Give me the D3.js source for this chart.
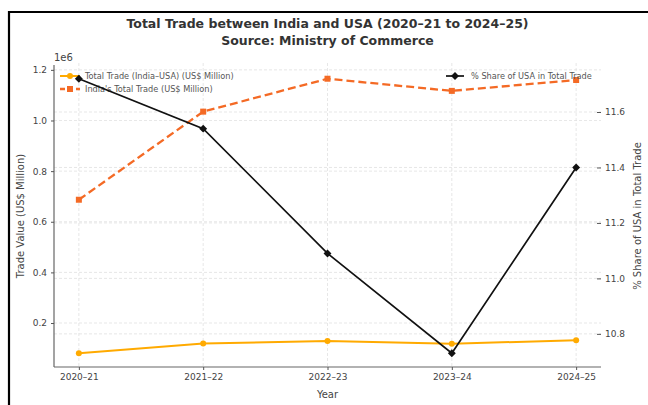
<!DOCTYPE html>
<html><head><meta charset="utf-8">
<script src="https://cdn.jsdelivr.net/npm/d3@7"></script>
<style>body{margin:0;background:#fff}svg{display:block;font-family:"DejaVu Sans",sans-serif}</style>
</head><body>
<svg id="c" width="648" height="405"></svg>
<script>
const years = ["2020–21","2021–22","2022–23","2023–24","2024–25"];
const usaTrade = [80510, 119420, 128550, 118280, 131840];
const indiaTrade = [687000, 1035000, 1165000, 1117000, 1160000];
const usaShare = [11.72, 11.54, 11.09, 10.73, 11.40];
const leftTicks = [0.2e6, 0.4e6, 0.6e6, 0.8e6, 1.0e6, 1.2e6];
const rightTicks = [10.8, 11.0, 11.2, 11.4, 11.6];

const svg = d3.select("#c");
const L = 54, R = 601, T = 65, B = 367;
const textCol = "#444";

// frame
svg.append("line").attr("x1",9).attr("x2",9).attr("y1",11).attr("y2",405).attr("stroke","#000").attr("stroke-width",2.2);
svg.append("line").attr("x1",8).attr("x2",648).attr("y1",12).attr("y2",12).attr("stroke","#000").attr("stroke-width",2.2);

const step = (R - L) / (years.length - 1 + 0.4);
const x = d3.scalePoint().domain(years).range([L + 0.2*step, R - 0.2*step]);

function padExt(arr){const e=d3.extent(arr);const p=(e[1]-e[0])*0.05;return [e[0]-p,e[1]+p];}
const yL = d3.scaleLinear().domain(padExt(usaTrade.concat(indiaTrade))).range([B, T]);
const yR = d3.scaleLinear().domain(padExt(usaShare)).range([B, T]);

// grids
const g = svg.append("g");
const gridAttr = sel => sel.attr("stroke","#dcdcdc").attr("stroke-width",0.7).attr("stroke-dasharray","3,2");
years.forEach(d=>gridAttr(g.append("line").attr("x1",x(d)).attr("x2",x(d)).attr("y1",T-2).attr("y2",B)));
leftTicks.forEach(v=>gridAttr(g.append("line").attr("x1",L).attr("x2",R).attr("y1",yL(v)).attr("y2",yL(v))));
rightTicks.forEach(v=>gridAttr(g.append("line").attr("x1",L).attr("x2",R).attr("y1",yR(v)).attr("y2",yR(v))));

// axes
const axL = svg.append("g").attr("transform",`translate(${L},0)`)
  .call(d3.axisLeft(yL).tickValues(leftTicks).tickFormat(v=>(v/1e6).toFixed(1)).tickSize(3).tickPadding(4));
const axB = svg.append("g").attr("transform",`translate(0,${B})`)
  .call(d3.axisBottom(x).tickSize(3).tickPadding(4));
const axR = svg.append("g").attr("transform",`translate(${R},0)`)
  .call(d3.axisRight(yR).tickValues(rightTicks).tickFormat(d3.format(".1f")).tickSize(0).tickPadding(4));
axR.selectAll(".tick").append("line").attr("x1",-4).attr("x2",0).attr("stroke","#555");
axR.select(".domain").remove();
axB.select(".domain").attr("d",`M${L},0H${R}`);
[axL,axB,axR].forEach(a=>{
  a.selectAll("text").attr("fill",textCol).style("font-size","9px").style("font-family","DejaVu Sans");
  a.selectAll("line").attr("stroke","#555");
  a.select(".domain").attr("stroke","#666").attr("stroke-width",1.2);
});
axL.select(".domain").attr("d",`M0,${B}V${T}`);

// axis labels
svg.append("text").attr("x",54).attr("y",61).attr("fill",textCol).style("font-size","10px").text("1e6");
svg.append("text").attr("transform",`translate(24,${(T+B)/2}) rotate(-90)`).attr("text-anchor","middle").attr("fill",textCol).style("font-size","10px").text("Trade Value (US$ Million)");
svg.append("text").attr("transform",`translate(641,${(T+B)/2}) rotate(-90)`).attr("text-anchor","middle").attr("fill",textCol).style("font-size","10px").text("% Share of USA in Total Trade");
svg.append("text").attr("x",(L+R)/2).attr("y",398).attr("text-anchor","middle").attr("fill",textCol).style("font-size","10px").text("Year");

// title
svg.append("text").attr("x",(L+R)/2).attr("y",28).attr("text-anchor","middle").attr("fill","#333").style("font-size","12.5px").style("font-weight","bold").text("Total Trade between India and USA (2020–21 to 2024–25)");
svg.append("text").attr("x",(L+R)/2).attr("y",45).attr("text-anchor","middle").attr("fill","#333").style("font-size","12.5px").style("font-weight","bold").text("Source: Ministry of Commerce");

const cUSA = "#FFAA00", cInd = "#F46A25", cShare = "#111";
const lineL = d3.line().x((d,i)=>x(years[i])).y(d=>yL(d));
const lineR = d3.line().x((d,i)=>x(years[i])).y(d=>yR(d));

svg.append("path").datum(usaTrade).attr("d",lineL).attr("fill","none").attr("stroke",cUSA).attr("stroke-width",2);
svg.selectAll(".pu").data(usaTrade).enter().append("circle").attr("cx",(d,i)=>x(years[i])).attr("cy",d=>yL(d)).attr("r",3).attr("fill",cUSA);
svg.append("path").datum(indiaTrade).attr("d",lineL).attr("fill","none").attr("stroke",cInd).attr("stroke-width",2.3).attr("stroke-dasharray","8,4");
svg.selectAll(".pi").data(indiaTrade).enter().append("rect").attr("x",(d,i)=>x(years[i])-3).attr("y",d=>yL(d)-3).attr("width",6).attr("height",6).attr("fill",cInd);

// left legend
const lg = svg.append("g");
lg.append("line").attr("x1",60).attr("x2",80).attr("y1",76).attr("y2",76).attr("stroke",cUSA).attr("stroke-width",2);
lg.append("circle").attr("cx",70).attr("cy",76).attr("r",3).attr("fill",cUSA);
lg.append("text").attr("x",85).attr("y",79).attr("fill","#555").style("font-size","8.2px").text("Total Trade (India–USA) (US$ Million)");
lg.append("line").attr("x1",60).attr("x2",80).attr("y1",89).attr("y2",89).attr("stroke",cInd).attr("stroke-width",2.3).attr("stroke-dasharray","5,3");
lg.append("rect").attr("x",67).attr("y",86).attr("width",6).attr("height",6).attr("fill",cInd);
lg.append("text").attr("x",85).attr("y",92).attr("fill","#555").style("font-size","8.2px").text("India's Total Trade (US$ Million)");

// share line
svg.append("path").datum(usaShare).attr("d",lineR).attr("fill","none").attr("stroke",cShare).attr("stroke-width",1.7);
const dia = d3.symbol().type(d3.symbolDiamond2).size(40);
svg.selectAll(".ps").data(usaShare).enter().append("path").attr("d",dia).attr("transform",(d,i)=>`translate(${x(years[i])},${yR(d)})`).attr("fill",cShare);

// right legend
const rg = svg.append("g");
rg.append("line").attr("x1",446).attr("x2",464).attr("y1",76).attr("y2",76).attr("stroke",cShare).attr("stroke-width",1.7);
rg.append("path").attr("d",dia).attr("transform","translate(455,76)").attr("fill",cShare);
rg.append("text").attr("x",471).attr("y",79).attr("fill","#555").style("font-size","8.2px").text("% Share of USA in Total Trade");
</script>
</body></html>
